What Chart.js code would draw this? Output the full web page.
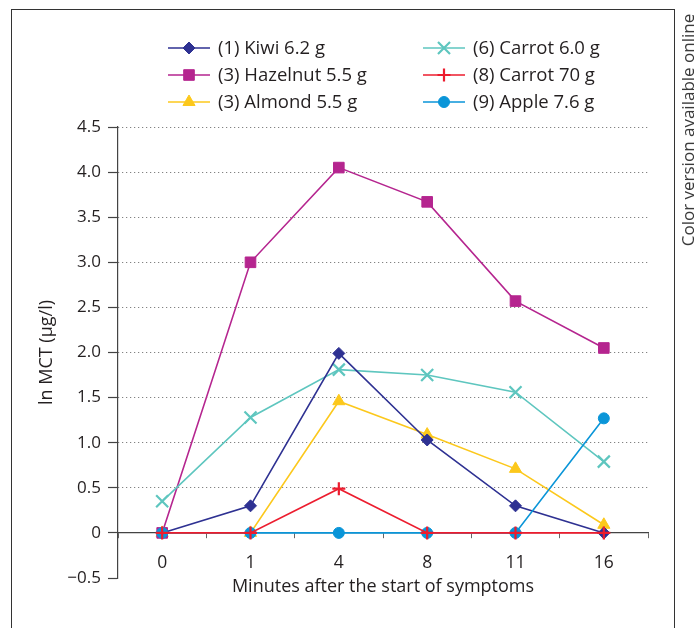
<!DOCTYPE html>
<html>
<head>
<meta charset="utf-8">
<script src="https://cdn.jsdelivr.net/npm/chart.js@4/dist/chart.umd.min.js"></script>
<style>
html,body{margin:0;padding:0;background:#fff;}
#wrap{position:relative;width:700px;height:628px;overflow:hidden;background:#fff;}
#c{position:absolute;left:0;top:0;}
#frame{position:absolute;left:11px;top:9px;width:662px;height:700px;border-left:1.5px solid #333;border-top:1.5px solid #333;border-right:1.5px solid #333;pointer-events:none;}
#side{position:absolute;left:548px;top:120px;width:280px;height:20px;line-height:20px;text-align:center;transform:rotate(-90deg);transform-origin:50% 50%;font-family:"Open Sans",sans-serif;font-size:17px;color:#3a3a3a;white-space:nowrap;}
</style>
</head>
<body>
<div id="wrap">
<canvas id="c" width="700" height="628"></canvas>
<div id="frame"></div>
<div id="side">Color version available online</div>
</div>
<script>
// ---- data ----
const categories = ['0', '1', '4', '8', '11', '16'];
const yTickLabels = ['\u22120.5', '0', '0.5', '1.0', '1.5', '2.0', '2.5', '3.0', '3.5', '4.0', '4.5'];
const seriesNames = ['(1) Kiwi 6.2 g', '(3) Hazelnut 5.5 g', '(3) Almond 5.5 g', '(6) Carrot 6.0 g', '(8) Carrot 70 g', '(9) Apple 7.6 g'];
const kiwi     = [0, 0.30, 1.99, 1.03, 0.30, 0];
const hazelnut = [0, 3.00, 4.05, 3.67, 2.57, 2.05];
const almond   = [0, 0, 1.46, 1.09, 0.71, 0.09];
const carrot6  = [0.35, 1.28, 1.81, 1.75, 1.56, 0.79];
const carrot70 = [0, 0, 0.49, 0, 0, 0];
const apple    = [0, 0, 0, 0, 0, 1.27];
const xTitle = 'Minutes after the start of symptoms';
const yTitle = 'ln MCT (\u00b5g/l)';

// ---- styles ----
const FONT = '"Open Sans", sans-serif';
const TXT = '#231f20';
const styles = [
  {color: '#2e3192', pointStyle: 'rectRot', radius: 6, borderWidth: 1, order: 2, legend: [0, 0]},
  {color: '#b5258f', pointStyle: 'rect', radius: 7.5, borderWidth: 1, order: 4, legend: [0, 1]},
  {color: '#fcc81c', pointStyle: 'triangle', radius: 7, borderWidth: 1, order: 5, legend: [0, 2]},
  {color: '#5ec6bf', pointStyle: 'crossRot', radius: 8.5, borderWidth: 2.2, order: 3, legend: [1, 0]},
  {color: '#ec1c2e', pointStyle: 'cross', radius: 6.5, borderWidth: 2.2, order: 0, legend: [1, 1]},
  {color: '#0a95d8', pointStyle: 'circle', radius: 5.5, borderWidth: 1, order: 1, legend: [1, 2]}
];
const seriesValues = [kiwi, hazelnut, almond, carrot6, carrot70, apple];

const datasets = seriesValues.map((vals, k) => ({
  label: seriesNames[k],
  data: vals.map((v, i) => ({x: i, y: v})),
  borderColor: styles[k].color,
  backgroundColor: styles[k].color,
  pointBackgroundColor: styles[k].color,
  pointBorderColor: styles[k].color,
  pointStyle: styles[k].pointStyle,
  pointRadius: styles[k].radius,
  pointBorderWidth: styles[k].borderWidth,
  borderWidth: 1.6,
  tension: 0,
  fill: false,
  order: styles[k].order
}));

const legendPlugin = {
  id: 'customLegend',
  afterDraw(chart) {
    const ctx = chart.ctx;
    const colX = [168, 423];
    const rowY = [48, 75, 102];
    chart.data.datasets.forEach((ds, k) => {
      const st = styles[k];
      const x = colX[st.legend[0]];
      const y = rowY[st.legend[1]];
      ctx.save();
      ctx.strokeStyle = st.color;
      ctx.lineWidth = 1.6;
      ctx.beginPath();
      ctx.moveTo(x, y);
      ctx.lineTo(x + 42, y);
      ctx.stroke();
      ctx.fillStyle = st.color;
      ctx.strokeStyle = st.color;
      ctx.lineWidth = st.borderWidth;
      Chart.helpers.drawPoint(ctx, {pointStyle: st.pointStyle, radius: st.radius, borderWidth: st.borderWidth, rotation: 0}, x + 21, y);
      ctx.fillStyle = TXT;
      ctx.font = '18.5px ' + FONT;
      ctx.textBaseline = 'middle';
      ctx.textAlign = 'left';
      ctx.fillText(ds.label, x + 50, y + 1);
      ctx.restore();
    });
  }
};

new Chart(document.getElementById('c'), {
  type: 'line',
  data: {datasets},
  plugins: [legendPlugin],
  options: {
    responsive: false,
    devicePixelRatio: 1,
    animation: false,
    events: [],
    layout: {padding: {left: 20, right: 52, top: 127, bottom: 50}},
    plugins: {legend: {display: false}, tooltip: {enabled: false}},
    scales: {
      x: {
        type: 'linear',
        position: {y: 0},
        min: -0.5,
        max: 5.5,
        afterFit(s) { s.height = 50; },
        ticks: {
          stepSize: 0.5,
          autoSkip: false,
          maxRotation: 0,
          padding: 15,
          color: TXT,
          font: {family: FONT, size: 17.5},
          callback: (v) => Number.isInteger(v) && v >= 0 ? categories[v] : ''
        },
        grid: {display: true, drawOnChartArea: false, drawTicks: true, tickLength: 5, tickColor: '#666', tickWidth: 1},
        border: {display: true, color: '#444', width: 1.2},
        title: {display: true, text: xTitle, color: TXT, font: {family: FONT, size: 18}, padding: {top: 0, bottom: -15}}
      },
      y: {
        type: 'linear',
        position: 'left',
        min: -0.5,
        max: 4.5,
        afterFit(s) { s.width = 98; },
        ticks: {
          stepSize: 0.5,
          autoSkip: false,
          padding: 7,
          color: TXT,
          font: {family: FONT, size: 17},
          callback: (v) => yTickLabels[Math.round((v + 0.5) * 2)]
        },
        grid: {
          display: true,
          drawOnChartArea: true,
          drawTicks: true,
          tickLength: 10,
          tickColor: '#444',
          tickWidth: 1.2,
          lineWidth: 1,
          color: (c) => (c.tick && c.tick.value > 0.01) ? '#666' : 'rgba(0,0,0,0)'
        },
        border: {display: true, color: '#444', width: 1.2, dash: [1, 3]},
        title: {display: true, text: yTitle, color: TXT, font: {family: FONT, size: 18}, padding: {top: 16, bottom: 0}}
      }
    }
  }
});
</script>
</body>
</html>
